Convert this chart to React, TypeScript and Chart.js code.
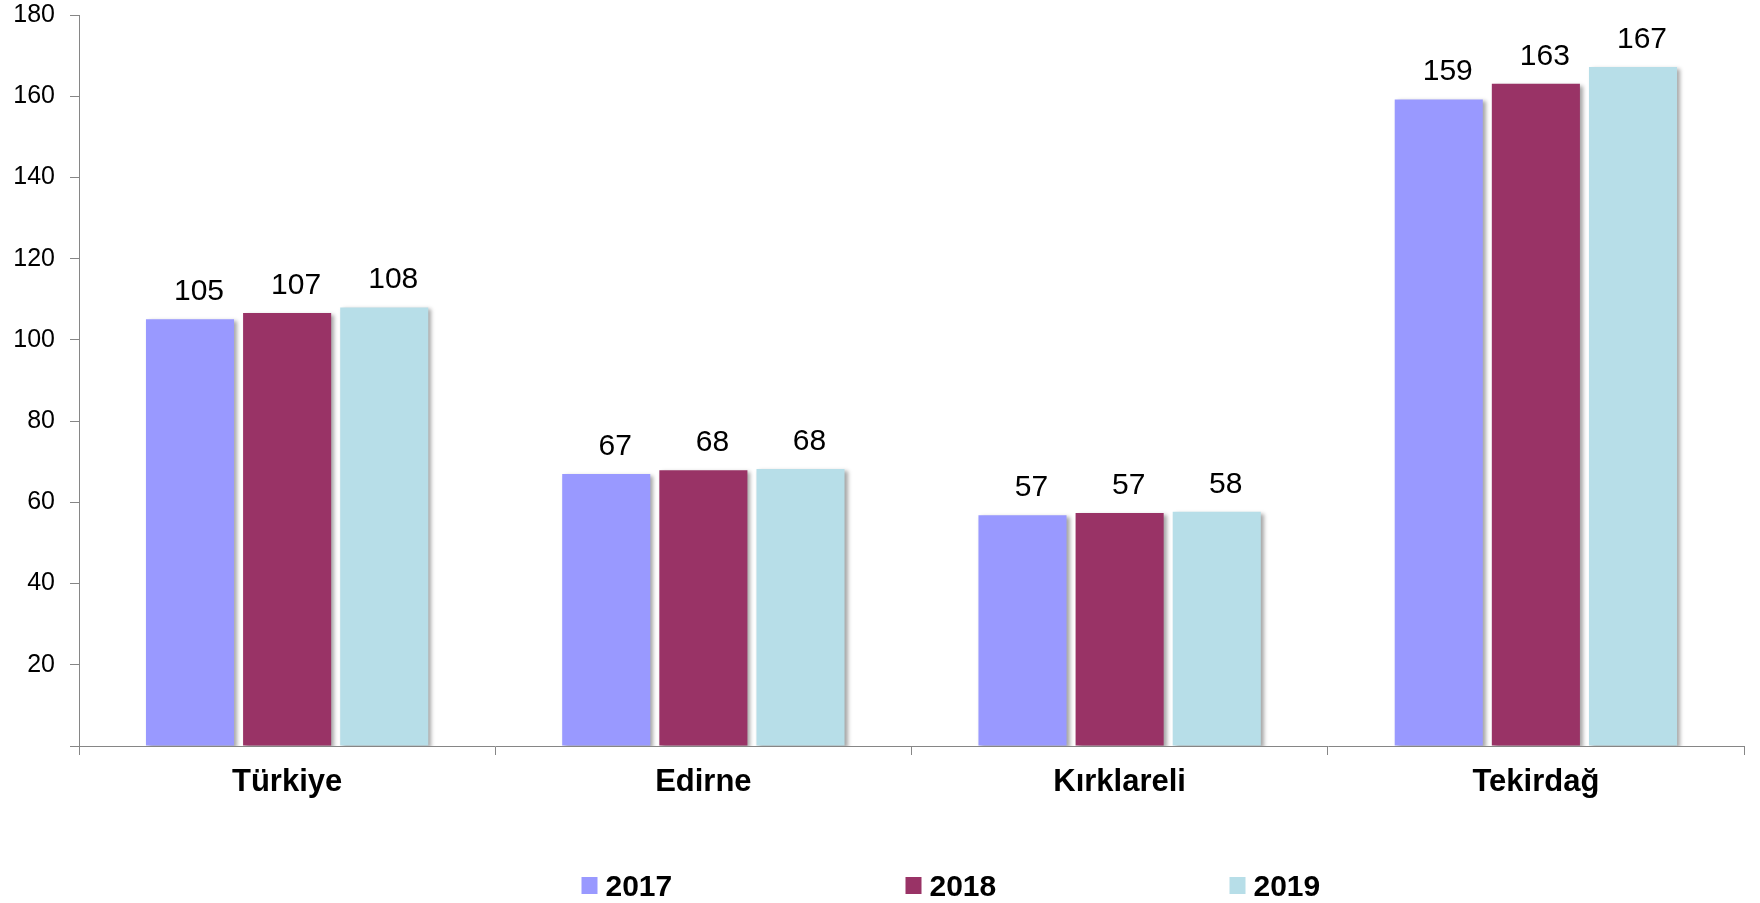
import React, { useEffect, useRef } from 'react';
import { Chart, registerables } from 'chart.js';

Chart.register(...registerables);

// ---- data ----
const categories = ['Türkiye', 'Edirne', 'Kırklareli', 'Tekirdağ'];
const seriesLabels = ['2017', '2018', '2019'];
const values2017 = [105.1, 67.0, 56.8, 159.2];
const values2018 = [106.6, 67.9, 57.4, 163.1];
const values2019 = [108.0, 68.2, 57.7, 167.2];
const seriesColors = ['#9999FF', '#993366', '#B7DEE8'];
const yMin = 0;
const yMax = 180;
const yStep = 20;

const FONT = "'Liberation Sans', Arial, sans-serif";
const AXIS_COLOR = '#868686';

const shadowPlugin = {
  id: 'barShadow',
  beforeDatasetDraw(chart: any) {
    const ctx = chart.ctx;
    ctx.save();
    ctx.shadowColor = 'rgba(0,0,0,0.35)';
    ctx.shadowBlur = 4;
    ctx.shadowOffsetX = 3;
    ctx.shadowOffsetY = 2;
  },
  afterDatasetDraw(chart: any) {
    chart.ctx.restore();
  },
};

const valueLabelPlugin = {
  id: 'valueLabels',
  afterDatasetsDraw(chart: any) {
    const ctx = chart.ctx;
    ctx.save();
    ctx.font = `30px ${FONT}`;
    ctx.fillStyle = '#000';
    ctx.textAlign = 'center';
    ctx.textBaseline = 'alphabetic';
    chart.data.datasets.forEach((ds: any, di: number) => {
      const meta = chart.getDatasetMeta(di);
      meta.data.forEach((bar: any, i: number) => {
        const v = ds.data[i];
        ctx.fillText(String(Math.round(v)), bar.x + 9, bar.y - 19);
      });
    });
    ctx.restore();
  },
};

const legendPlugin = {
  id: 'customLegend',
  afterDraw(chart: any) {
    const ctx = chart.ctx;
    ctx.save();
    ctx.font = `bold 30px ${FONT}`;
    ctx.textAlign = 'left';
    ctx.textBaseline = 'alphabetic';
    chart.data.datasets.forEach((ds: any, i: number) => {
      const x = 581.5 + i * 324;
      ctx.fillStyle = ds.backgroundColor;
      ctx.fillRect(x, 877, 16, 17);
      ctx.fillStyle = '#000';
      ctx.fillText(ds.label, x + 24, 895.5);
    });
    ctx.restore();
  },
};

export default function App() {
  const ref = useRef<HTMLCanvasElement>(null);

  useEffect(() => {
    const series = [values2017, values2018, values2019];
    const chart = new Chart(ref.current as HTMLCanvasElement, {
      type: 'bar',
      data: {
        labels: categories,
        datasets: seriesLabels.map((label, i) => ({
          label,
          data: series[i],
          backgroundColor: seriesColors[i],
          borderWidth: 0,
          categoryPercentage: 0.7,
          barPercentage: 0.907,
        })),
      },
      options: {
        responsive: false,
        animation: false,
        devicePixelRatio: 1,
        layout: { padding: { top: 15, right: 16, bottom: 100, left: 0 } },
        plugins: {
          legend: { display: false },
          tooltip: { enabled: false },
        },
        scales: {
          x: {
            offset: true,
            grid: {
              offset: true,
              drawOnChartArea: false,
              drawTicks: true,
              tickLength: 9,
              color: AXIS_COLOR,
            },
            border: { color: AXIS_COLOR, width: 1 },
            ticks: {
              color: '#000',
              padding: 9,
              font: { family: FONT, size: 31, weight: 'bold' },
              maxRotation: 0,
            },
            afterFit(scale: any) {
              scale.height = 57;
            },
          },
          y: {
            min: yMin,
            max: yMax,
            grid: {
              drawOnChartArea: false,
              drawTicks: true,
              tickLength: 9,
              color: AXIS_COLOR,
            },
            border: { color: AXIS_COLOR, width: 1 },
            ticks: {
              stepSize: yStep,
              color: '#000',
              padding: 15,
              font: { family: FONT, size: 25, lineHeight: 0 },
              callback: (v: any) => (v === 0 ? '' : String(v)),
            },
            afterFit(scale: any) {
              scale.width = 79;
            },
          },
        },
      },
      plugins: [shadowPlugin, valueLabelPlugin, legendPlugin],
    } as any);
    return () => chart.destroy();
  }, []);

  return (
    <div style={{ position: 'absolute', left: 0, top: 0, width: 1760, height: 903 }}>
      <canvas ref={ref} width={1760} height={903} style={{ display: 'block' }} />
    </div>
  );
}
